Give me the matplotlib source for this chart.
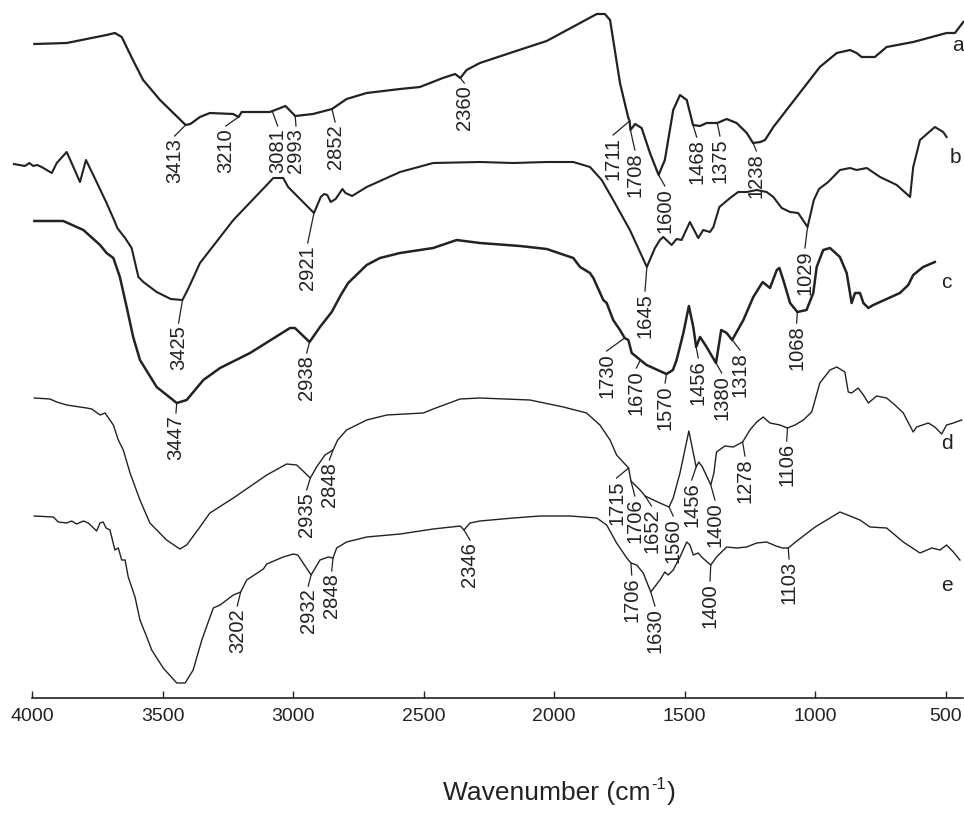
import numpy as np
import matplotlib.pyplot as plt

plt.rcParams['font.family'] = ['Liberation Sans', 'DejaVu Sans']

# FTIR spectra, stacked with offsets (transmittance, a.u.)
wn_a = [3993, 3869, 3716, 3684, 3658, 3615, 3576, 3511, 3413, 3395, 3358, 3320,
        3231, 3210, 3198, 3090, 3030, 2993, 2925, 2852, 2796, 2719, 2591, 2515,
        2427, 2380, 2360, 2336, 2285, 2158, 2029, 1901, 1837, 1806, 1786, 1748,
        1716, 1711, 1708, 1690, 1665, 1633, 1600, 1576, 1544, 1518, 1492, 1468,
        1441, 1416, 1375, 1339, 1301, 1262, 1238, 1210, 1192, 1160, 1071, 982,
        917, 866, 841, 822, 771, 726, 624, 496, 464, 432]
t_a = [654, 655, 663, 665, 661, 638, 618, 598, 573, 574, 581, 585,
       584, 581, 586, 586, 592, 582, 584, 589, 599, 605, 609, 611,
       620, 624, 620, 628, 635, 646, 657, 675, 684, 684, 678, 615,
       580, 577, 568, 574, 570, 545, 523, 538, 588, 603, 598, 573,
       572, 575, 575, 579, 575, 565, 555, 556, 558, 571, 601, 631,
       645, 648, 645, 641, 641, 651, 656, 665, 665, 676]

wn_b = [4071, 4029, 4012, 3997, 3982, 3965, 3926, 3907, 3869, 3850, 3818, 3795,
        3767, 3716, 3684, 3675, 3645, 3620, 3594, 3575, 3524, 3470, 3425, 3400,
        3358, 3230, 3102, 3077, 3039, 3020, 2921, 2895, 2882, 2870, 2857, 2838,
        2812, 2800, 2775, 2719, 2591, 2464, 2285, 2158, 2029, 1927, 1863, 1818,
        1774, 1710, 1645, 1614, 1595, 1582, 1550, 1531, 1512, 1480, 1448, 1429,
        1403, 1390, 1367, 1326, 1295, 1262, 1224, 1186, 1160, 1128, 1096, 1065,
        1029, 1005, 985, 950, 905, 866, 841, 802, 751, 687, 636, 624, 598, 541,
        509, 496]
t_b = [534, 532, 535, 532, 533, 531, 525, 535, 546, 535, 516, 538,
       523, 495, 476, 470, 460, 450, 421, 416, 406, 399, 398, 411,
       435, 478, 513, 520, 520, 511, 485, 501, 504, 503, 496, 499,
       509, 505, 502, 511, 526, 535, 536, 535, 536, 536, 531, 518,
       498, 468, 431, 450, 458, 461, 453, 459, 458, 476, 460, 468,
       466, 471, 491, 500, 506, 506, 508, 506, 501, 490, 486, 485,
       471, 498, 509, 516, 528, 530, 528, 530, 521, 513, 501, 531, 558, 571,
       566, 561]

wn_c = [3993, 3882, 3805, 3741, 3716, 3690, 3665, 3639, 3614, 3588, 3524, 3447,
        3409, 3345, 3281, 3166, 3013, 2994, 2938, 2898, 2853, 2818, 2790, 2719,
        2668, 2591, 2464, 2374, 2285, 2131, 2029, 1927, 1901, 1863, 1850, 1812,
        1799, 1774, 1748, 1730, 1716, 1703, 1684, 1670, 1646, 1570, 1545, 1531,
        1505, 1484, 1467, 1456, 1441, 1416, 1380, 1360, 1339, 1318, 1275, 1237,
        1201, 1173, 1147, 1137, 1122, 1096, 1068, 1033, 1007, 994, 969, 943,
        905, 879, 860, 847, 828, 815, 796, 777, 675, 643, 624, 586, 541]
t_c = [477, 477, 468, 453, 445, 440, 421, 391, 361, 338, 311, 295,
       298, 318, 330, 345, 370, 370, 356, 371, 386, 403, 415, 433,
       440, 445, 450, 458, 455, 452, 449, 440, 431, 425, 420, 398,
       395, 378, 368, 360, 358, 345, 341, 338, 333, 324, 328, 338,
       365, 392, 371, 351, 361, 351, 335, 368, 365, 358, 378, 401,
       416, 410, 428, 430, 418, 395, 386, 388, 405, 431, 448, 450,
       441, 425, 395, 405, 405, 395, 390, 393, 405, 413, 423, 431, 436]

wn_d = [3993, 3933, 3907, 3869, 3818, 3792, 3773, 3741, 3722, 3690, 3671, 3652,
        3626, 3588, 3550, 3486, 3435, 3409, 3358, 3320, 3230, 3102, 3026, 2987,
        2935, 2911, 2879, 2848, 2830, 2796, 2719, 2642, 2502, 2464, 2361, 2285,
        2093, 1965, 1876, 1825, 1786, 1761, 1715, 1706, 1671, 1652, 1595, 1560,
        1544, 1518, 1484, 1456, 1446, 1432, 1400, 1388, 1378, 1346, 1314, 1278,
        1250, 1224, 1199, 1173, 1135, 1106, 1077, 1045, 1013, 982, 943, 917,
        886, 873, 860, 835, 815, 796, 764, 726, 694, 662, 624, 611, 566, 541,
        515, 496, 470, 438]
t_d = [300, 299, 296, 293, 291, 290, 289, 283, 285, 273, 258, 248,
       225, 198, 175, 158, 149, 153, 171, 185, 200, 223, 234, 233,
       220, 231, 243, 248, 258, 268, 278, 283, 285, 289, 299, 300,
       298, 291, 285, 273, 258, 243, 230, 217, 208, 202, 195, 191,
       200, 225, 267, 231, 236, 231, 213, 225, 246, 252, 251, 256,
       268, 276, 281, 275, 273, 270, 273, 278, 286, 315, 328, 331,
       326, 306, 305, 310, 303, 295, 302, 300, 293, 285, 266, 271, 275, 271,
       264, 273, 275, 278]

wn_e = [3993, 3920, 3901, 3869, 3850, 3831, 3805, 3786, 3754, 3741, 3729, 3718,
        3703, 3684, 3671, 3658, 3645, 3633, 3607, 3588, 3562, 3543, 3499, 3447,
        3415, 3384, 3351, 3307, 3281, 3230, 3202, 3179, 3115, 3102, 3039, 3000,
        2983, 2932, 2898, 2866, 2848, 2834, 2796, 2719, 2591, 2464, 2360, 2346,
        2323, 2285, 2157, 2055, 1940, 1837, 1799, 1761, 1722, 1706, 1684, 1659,
        1630, 1595, 1576, 1563, 1544, 1518, 1492, 1480, 1467, 1448, 1431, 1400,
        1378, 1339, 1301, 1262, 1224, 1186, 1150, 1125, 1103, 1075, 1000, 905,
        866, 828, 790, 726, 662, 598, 553, 521, 496, 470, 445]
t_e = [182, 181, 176, 175, 177, 174, 177, 175, 167, 175, 176, 170,
       168, 148, 150, 138, 138, 121, 101, 78, 61, 48, 30, 15,
       15, 28, 58, 90, 93, 103, 106, 118, 129, 134, 141, 144,
       143, 123, 138, 141, 140, 150, 156, 161, 164, 169, 172, 168,
       175, 177, 180, 182, 182, 180, 173, 155, 140, 135, 133, 125,
       106, 118, 126, 123, 128, 141, 156, 153, 143, 145, 140, 133,
       141, 151, 150, 151, 155, 156, 152, 150, 150, 156, 171, 186,
       182, 178, 171, 170, 156, 145, 150, 148, 153, 146, 138]

# assigned bands and where their labels sit (wavenumber, top of label)
peaks_a = [3413, 3210, 3081, 2993, 2852, 2360, 1711, 1708, 1600, 1468, 1375, 1238]
lab_x_a = [3455, 3259, 3060, 2990, 2840, 2345, 1774, 1691, 1576, 1454, 1365, 1225]
lab_y_a = [560, 570, 570, 570, 574, 613, 561, 546, 510, 559, 560, 545]

peaks_b = [3425, 2921, 1645, 1029]
lab_x_b = [3440, 2945, 1652, 1039]
lab_y_b = [373, 453, 405, 448]

peaks_c = [3447, 2938, 1730, 1670, 1570, 1456, 1380, 1318, 1068]
lab_x_c = [3450, 2949, 1799, 1685, 1575, 1448, 1358, 1288, 1071]
lab_y_c = [283, 343, 345, 328, 313, 338, 323, 346, 373]

peaks_d = [2935, 2848, 1715, 1706, 1652, 1560, 1456, 1400, 1278, 1106]
lab_x_d = [2949, 2862, 1761, 1691, 1627, 1544, 1473, 1384, 1269, 1109]
lab_y_d = [206, 236, 218, 200, 190, 180, 216, 196, 240, 255]

peaks_e = [3202, 2932, 2848, 2346, 1706, 1630, 1400, 1103]
lab_x_e = [3215, 2943, 2853, 2323, 1703, 1614, 1403, 1100]
lab_y_e = [90, 110, 125, 156, 121, 90, 115, 137]

names = ['a', 'b', 'c', 'd', 'e']
name_x = [452, 464, 496, 496, 496]
name_y = [653, 541, 416, 255, 113]

W, H = 964, 814
fig = plt.figure(figsize=(W / 100, H / 100), dpi=100)
ax = fig.add_axes([0.0337, 0.1425, 0.9653, 0.8575])

ink = '#222222'
spectra = [
    (wn_a, t_a, peaks_a, lab_x_a, lab_y_a, 1.6),
    (wn_b, t_b, peaks_b, lab_x_b, lab_y_b, 1.5),
    (wn_c, t_c, peaks_c, lab_x_c, lab_y_c, 1.8),
    (wn_d, t_d, peaks_d, lab_x_d, lab_y_d, 1.0),
    (wn_e, t_e, peaks_e, lab_x_e, lab_y_e, 1.0),
]

for wn, t, peaks, lx, ly, lw in spectra:
    ax.plot(wn, t, color=ink, lw=lw, clip_on=False, solid_joinstyle='round')
    xs = np.array(wn[::-1], dtype=float)
    ys = np.array(t[::-1], dtype=float)
    for p, x, y in zip(peaks, lx, ly):
        yp = np.interp(p, xs, ys)
        ax.plot([p, x], [yp, y + 2], color=ink, lw=0.9, clip_on=False)
        ax.text(x, y, str(p), rotation=90, ha='center', va='top',
                fontsize=14.5, color=ink)

for n, x, y in zip(names, name_x, name_y):
    ax.text(x, y, n, ha='center', va='center', fontsize=15, color=ink)

ax.set_xlim(4000, 433)
ax.set_ylim(0, 698)
ax.set_xticks([4000, 3500, 3000, 2500, 2000, 1500, 1000, 500])
ax.set_yticks([])
for side in ['left', 'right', 'top']:
    ax.spines[side].set_visible(False)
ax.spines['bottom'].set_linewidth(1.2)
ax.spines['bottom'].set_color(ink)
ax.tick_params(axis='x', direction='in', length=5, width=1, labelsize=14,
               pad=7, colors=ink)
ax.patch.set_alpha(0)

# axis title built in pieces so the superscript keeps a plain hyphen
renderer = fig.canvas.get_renderer()
base_y = 14 / H
t1 = fig.text(443 / W, base_y, 'Wavenumber (cm', fontsize=19, color=ink,
              ha='left', va='baseline')
x1 = t1.get_window_extent(renderer).x1
t2 = fig.text((x1 + 1) / W, base_y + 11 / H, '-1', fontsize=12, color=ink,
              ha='left', va='baseline')
x2 = t2.get_window_extent(renderer).x1
fig.text((x2 + 1) / W, base_y, ')', fontsize=19, color=ink,
         ha='left', va='baseline')

plt.savefig('out.png', dpi=100)
plt.close()
